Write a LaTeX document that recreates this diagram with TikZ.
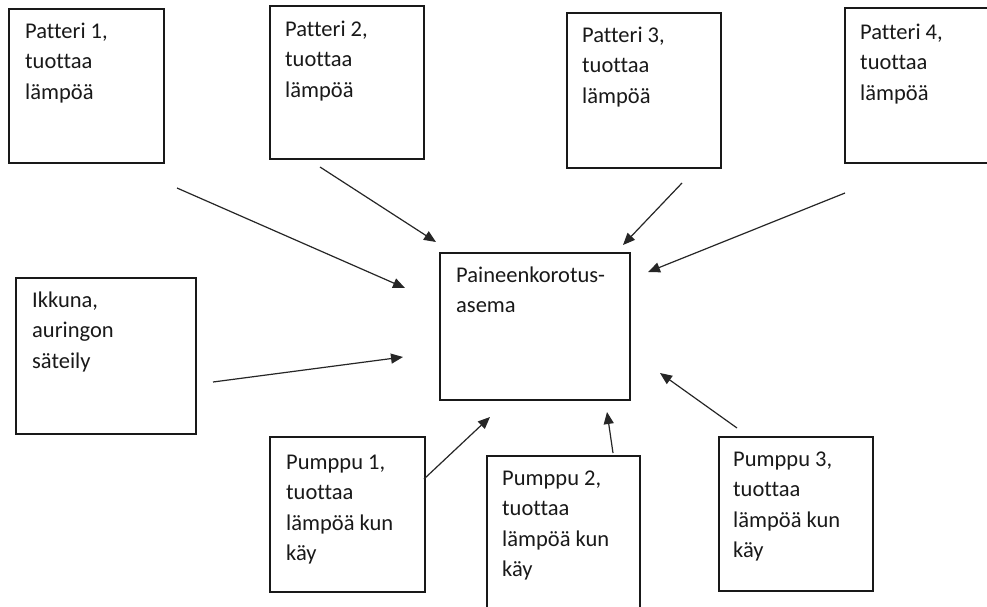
\documentclass[tikz,border=0pt]{standalone}
\usepackage{fontspec}
\setmainfont{Carlito}[Ligatures=CommonOff]
\usetikzlibrary{arrows.meta}
\tikzset{
  box/.style={draw=black!90, line width=1.5pt, rectangle, anchor=north west, inner sep=0pt},
  txt/.style={anchor=base west, inner sep=0pt, font=\fontsize{22.5}{30.5}\selectfont, text=black!90},
  arr/.style={draw=black!85, line width=1.2pt, -{Triangle[length=12pt,width=10pt]}}
}
\begin{document}
\begin{tikzpicture}[x=1pt,y=-1pt]
\useasboundingbox (0,0) rectangle (987,606);
\clip (0,0) rectangle (987,606);
\fill[white] (0,0) rectangle (987,606);
% boxes
\node[box, minimum width=155pt, minimum height=154pt] (p1) at (8,8) {};
\node[box, minimum width=154pt, minimum height=153pt] (p2) at (269,5) {};
\node[box, minimum width=154pt, minimum height=155pt] (p3) at (566,12) {};
\node[box, minimum width=160pt, minimum height=155pt] (p4) at (844,7) {};
\node[box, minimum width=180pt, minimum height=156pt] (ik) at (15,277) {};
\node[box, minimum width=190pt, minimum height=147pt] (pa) at (439,252) {};
\node[box, minimum width=155pt, minimum height=155pt] (u1) at (269,436) {};
\node[box, minimum width=153pt, minimum height=170pt] (u2) at (486,455) {};
\node[box, minimum width=154pt, minimum height=154pt] (u3) at (718,436) {};
% texts
\node[txt] (p1t) at (25,38) {\vtop{\hbox{Patteri 1,}\hbox{tuottaa}\hbox{lämpöä}}};
\node[txt] (p2t) at (285,36) {\vtop{\hbox{Patteri 2,}\hbox{tuottaa}\hbox{lämpöä}}};
\node[txt] (p3t) at (582,42) {\vtop{\hbox{Patteri 3,}\hbox{tuottaa}\hbox{lämpöä}}};
\node[txt] (p4t) at (860,39) {\vtop{\hbox{Patteri 4,}\hbox{tuottaa}\hbox{lämpöä}}};
\node[txt] (ikt) at (32,307) {\vtop{\hbox{Ikkuna,}\hbox{auringon}\hbox{säteily}}};
\node[txt] (pat) at (456,282) {\vtop{\hbox{Paineenkorotus-}\hbox{asema}}};
\node[txt] (u1t) at (286,469) {\vtop{\hbox{Pumppu 1,}\hbox{tuottaa}\hbox{lämpöä kun}\hbox{käy}}};
\node[txt] (u2t) at (502,485) {\vtop{\hbox{Pumppu 2,}\hbox{tuottaa}\hbox{lämpöä kun}\hbox{käy}}};
\node[txt] (u3t) at (733,466) {\vtop{\hbox{Pumppu 3,}\hbox{tuottaa}\hbox{lämpöä kun}\hbox{käy}}};
% arrow ends
\coordinate (a1s) at (177,188); \coordinate (a1e) at (405,288);
\coordinate (a2s) at (320,167); \coordinate (a2e) at (436,242);
\coordinate (a3s) at (682,183); \coordinate (a3e) at (623,245);
\coordinate (a4s) at (845,193); \coordinate (a4e) at (648,272);
\coordinate (a5s) at (213,382); \coordinate (a5e) at (403,357);
\coordinate (a6s) at (424,479); \coordinate (a6e) at (490,417);
\coordinate (a7s) at (613,453); \coordinate (a7e) at (607,412);
\coordinate (a8s) at (737,428); \coordinate (a8e) at (660,373);
\draw[arr] (a1s) -- (a1e);
\draw[arr] (a2s) -- (a2e);
\draw[arr] (a3s) -- (a3e);
\draw[arr] (a4s) -- (a4e);
\draw[arr] (a5s) -- (a5e);
\draw[arr] (a6s) -- (a6e);
\draw[arr] (a7s) -- (a7e);
\draw[arr] (a8s) -- (a8e);
\end{tikzpicture}
\end{document}
